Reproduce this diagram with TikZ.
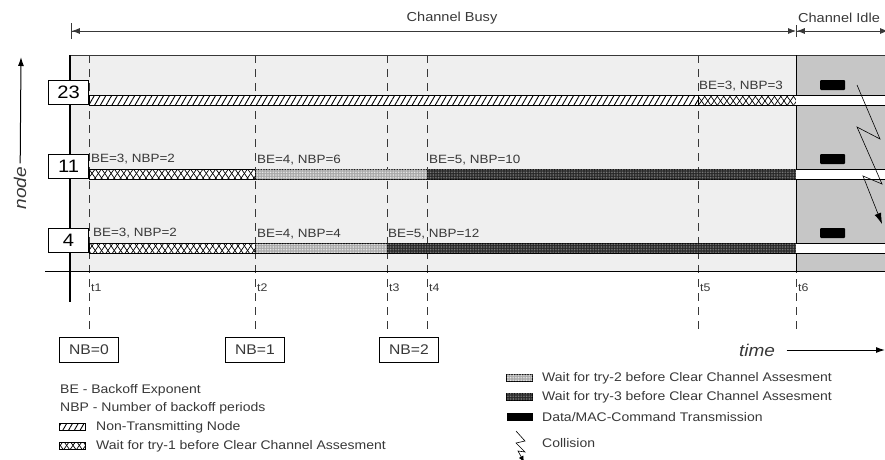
\documentclass[tikz,border=0pt]{standalone}
\usepackage{fontspec}
\setmainfont{Liberation Sans}[FakeStretch=1.12]
\usetikzlibrary{positioning,arrows.meta,patterns.meta}
\definecolor{busy100}{HTML}{EFEFEF}
\definecolor{idle300}{HTML}{C6C6C6}
\definecolor{grey700}{HTML}{383838}
\newcommand{\fsz}[1]{\fontsize{#1}{#1}\selectfont}
\tikzset{
  idbox/.style   ={draw, line width=0.9pt, fill=white, minimum width=40pt,
                   minimum height=24pt, inner sep=0pt, font=\fsz{18}},
  nbbox/.style   ={draw, line width=0.7pt, fill=white, minimum width=59pt,
                   minimum height=25pt, inner sep=0pt, font=\fsz{14},
                   text=grey700},
  bel/.style     ={font=\fsz{12}, text=grey700, anchor=base west,
                   inner sep=0pt},
  tlbl/.style    ={font=\fsz{11}, text=grey700, anchor=west, inner sep=1pt},
  leg/.style     ={font=\fsz{12.5}, text=grey700, anchor=west, inner sep=0pt},
  swatch/.style  ={minimum width=26pt, minimum height=7pt, inner sep=0pt},
  tline/.style   ={dash pattern=on 8pt off 6pt, line width=0.7pt, draw=grey700},
  seg/.style     ={draw, line width=0.7pt},
  nontx/.style   ={seg, preaction={fill=white},
                   pattern={Lines[angle=60,distance=5pt,line width=0.9pt]}},
  tryone/.style  ={seg, preaction={fill=white},
                   pattern={Lines[angle=55,distance=5.2pt,line width=0.7pt]},
                   postaction={pattern={Lines[angle=-55,distance=5.2pt,
                   line width=0.7pt]}}},
  trytwo/.style  ={seg, fill=black!35,
                   postaction={pattern={Dots[distance=1.6pt,radius=0.45pt]},
                   pattern color=white}},
  trythree/.style={seg, fill=black!85,
                   postaction={pattern={Dots[distance=1.6pt,radius=0.45pt]},
                   pattern color=black!40}},
  datatx/.style  ={fill=black, rounded corners=1pt},
  span/.style    ={line width=0.8pt, draw=grey700},
  ax/.style      ={-{Latex[length=9pt,width=6pt]}, line width=1pt},
  bolt/.style    ={-{Latex[length=11pt,width=7pt]}, line width=0.6pt}
}
\begin{document}
\begin{tikzpicture}[x=1pt, y=-1pt]
\useasboundingbox (0,0) rectangle (885,459);

\fill[busy100] (71,55) rectangle (796,271);
\fill[idle300] (796,55) rectangle (885,271);

\foreach \t/\x in {t1/89,t2/255,t3/387,t4/427,t5/698,t6/796}{
  \draw[tline] (\x,55) -- (\x,330);
  \node[tlbl] (\t) at (\x+1,288) {\t};
}

\draw[nontx]    (89,95)   rectangle (698,105);
\draw[tryone]   (698,95)  rectangle (796,105);
\draw[tryone]   (89,169)  rectangle (255,179);
\draw[trytwo]   (255,169) rectangle (427,179);
\draw[trythree] (427,169) rectangle (796,179);
\draw[tryone]   (89,243)  rectangle (255,253);
\draw[trytwo]   (255,243) rectangle (387,253);
\draw[trythree] (387,243) rectangle (796,253);

\draw[line width=0.6pt, grey700] (71,55) -- (885,55);
\draw[line width=1.6pt] (70,55) -- (70,302);
\draw[line width=1pt] (45,271) -- (885,271);
\draw[line width=1pt] (796,55) -- (796,271);

\foreach \n/\y in {23/105,11/179,4/253}{
  \fill[white] (796,\y) rectangle (885,\y-10);
  \draw[line width=0.7pt] (796,\y) -- (885,\y) (796,\y-10) -- (885,\y-10);
  \fill[datatx] (820,\y-25) rectangle (845,\y-15);
  \node[idbox, anchor=south east] (id\n) at (89,\y) {\n};
}

\node[bel] (be23c) at (699,89)  {BE=3, NBP=3};
\node[bel] (be11a) at (91,162)  {BE=3, NBP=2};
\node[bel] (be11b) at (257,163) {BE=4, NBP=6};
\node[bel] (be11c) at (429,163) {BE=5, NBP=10};
\node[bel] (be4a)  at (93,236)  {BE=3, NBP=2};
\node[bel] (be4b)  at (257,237) {BE=4, NBP=4};
\node[bel] (be4c)  at (388,237) {BE=5, NBP=12};

\coordinate (busyL) at (71,31);
\coordinate (busyR) at (796,31);
\coordinate (idleR) at (888,31);
\draw[span, {Bar[width=16pt]Latex[length=8pt,width=6pt]}-{Latex[length=8pt,width=6pt]}]
  (busyL) -- (busyR);
\draw[span, {Bar[width=12pt]Latex[length=8pt,width=6pt]}-{Latex[length=8pt,width=6pt]}]
  (busyR) -- (idleR);
\node[font=\fsz{13}, text=grey700] (busy) at (452,18) {Channel Busy};
\node[font=\fsz{13}, text=grey700] (idle) at (839,18) {Channel Idle};

\coordinate (c0) at (857,85);
\coordinate (c1) at (880,139);
\coordinate (c2) at (857,127);
\coordinate (c3) at (882,184);
\coordinate (c4) at (863,176);
\coordinate (c5) at (882,224);
\draw[bolt] (c0) -- (c1) -- (c2) -- (c3) -- (c4) -- (c5);

\node[rotate=90, font=\fsz{17}\itshape, text=grey700] (ylab) at (20,188) {node};
\coordinate (ytop) at (21,57);
\draw[ax] (ylab) -- (ytop);
\node[font=\fsz{17}\itshape, text=grey700] (xlab) at (757,350) {time};
\coordinate (xend) at (885,350);
\draw[ax, shorten <=8pt] (xlab) -- (xend);

\node[nbbox] (nb0) at (89,350)  {NB=0};
\node[nbbox] (nb1) at (255,350) {NB=1};
\node[nbbox] (nb2) at (409,350) {NB=2};

\node[leg] (lbe)  at (60,390) {BE - Backoff Exponent};
\node[leg] (lnbp) at (60,408) {NBP - Number of backoff periods};
\node[leg] (lnon) at (96,427) {Non-Transmitting Node};
\node[swatch, nontx, left=10pt of lnon] (snon) {};
\node[leg] (lone) at (96,446) {Wait for try-1 before Clear Channel Assesment};
\node[swatch, tryone, left=10pt of lone] (sone) {};
\node[leg] (ltwo) at (542,378) {Wait for try-2 before Clear Channel Assesment};
\node[swatch, trytwo, left=9pt of ltwo] (stwo) {};
\node[leg] (lthree) at (542,397) {Wait for try-3 before Clear Channel Assesment};
\node[swatch, trythree, left=9pt of lthree] (sthree) {};
\node[leg] (ltx) at (542,417) {Data/MAC-Command Transmission};
\node[swatch, fill=black, minimum height=8pt, left=9pt of ltx] (stx) {};
\node[leg] (lcol) at (542,443) {Collision};
\coordinate (k0) at (516,431);
\coordinate (k1) at (525,441);
\coordinate (k2) at (516,443);
\coordinate (k3) at (525,452);
\coordinate (k4) at (518,451);
\coordinate (k5) at (524,462);
\draw[bolt, -{Latex[length=6pt,width=5pt]}] (k0) -- (k1) -- (k2) -- (k3) -- (k4) -- (k5);
\end{tikzpicture}
\end{document}
